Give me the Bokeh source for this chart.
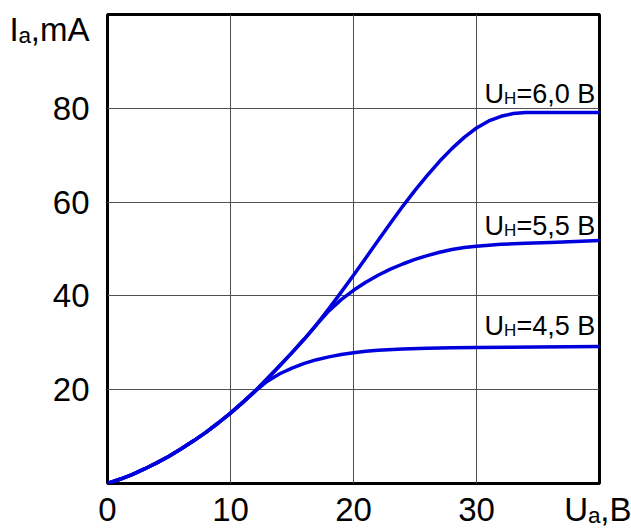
from bokeh.plotting import figure
from bokeh.models import Label, FixedTicker, Range1d
from bokeh.embed import file_html
from bokeh.resources import INLINE

# ---- data ----
x_ticks = [0, 10, 20, 30]
x_tick_labels = ["0", "10", "20", "30"]
y_ticks = [20, 40, 60, 80]
y_tick_labels = ["20", "40", "60", "80"]
x_title = "Uₐ,В"
y_title = "Iₐ,mA"

# common part of all three characteristics
ua_common = [0, 1, 2, 3, 4, 5, 6, 7, 8, 9, 10, 11, 12]
ia_common = [0, 0.9, 1.9, 3.1, 4.4, 5.8, 7.4, 9.1, 10.9, 12.9, 15.0, 17.3, 19.7]

# common part of the 5,5 V and 6,0 V curves
ua_mid = [13, 14, 15, 16, 17]
ia_mid = [22.4, 25.1, 27.9, 30.8, 33.9]

ua_45 = [13, 14, 15, 16, 17, 18, 19, 20, 21, 22, 24, 26, 28, 30, 35, 40]
ia_45 = [21.8, 23.4, 24.6, 25.6, 26.4, 27.0, 27.5, 27.9, 28.2, 28.4, 28.7, 28.85, 28.95, 29.0, 29.1, 29.2]

ua_55 = [18, 19, 20, 21, 22, 23, 24, 25, 26, 27, 28, 29, 30, 32, 34, 36, 38, 40]
ia_55 = [36.8, 39.2, 41.2, 42.9, 44.4, 45.7, 46.8, 47.8, 48.6, 49.3, 49.9, 50.3, 50.6, 51.0, 51.2, 51.4, 51.6, 51.8]

ua_60 = [18, 19, 20, 21, 22, 23, 24, 25, 26, 27, 28, 29, 30, 31, 32, 33, 34, 36, 38, 40]
ia_60 = [37.3, 40.8, 44.4, 48.1, 51.8, 55.5, 59.1, 62.5, 65.7, 68.7, 71.4, 73.8, 75.8, 77.3, 78.3, 78.9, 79.1, 79.1, 79.1, 79.1]

curve_names = ["6,0", "5,5", "4,5"]

# ---- figure ----
FL, FT, FW, FH = 107, 14, 492, 469  # frame position in page px
FR, FB = FL + FW, FT + FH
X0, X1, Y0, Y1 = 0, 40, 0, 100
p = figure(frame_width=FW, frame_height=FH,
           x_range=Range1d(X0, X1), y_range=Range1d(Y0, Y1),
           output_backend="svg", toolbar_location=None,
           min_border_left=FL, min_border_top=FT,
           min_border_right=631 - FR, min_border_bottom=529 - FB)
p.background_fill_color = "white"
p.border_fill_color = "white"
p.outline_line_color = "black"
p.outline_line_width = 3
p.outline_line_alpha = 1.0

FONT = "Liberation Sans"
sx = FW / (X1 - X0)
sy = FH / (Y1 - Y0)

# axis titles sit in the tick-label rows of the axes (as in the reference)
x_title_pos = X1                      # centred under the right frame edge
y_title_pos = (FB - 28.5) / sy        # level with the top of the frame

x_all = x_ticks + [x_title_pos]
x_all_labels = x_tick_labels + [x_title]
y_all = y_ticks + [y_title_pos]
y_all_labels = y_tick_labels + [y_title]

for ax, ticks, labs, standoff in ((p.xaxis[0], x_all, x_all_labels, 7),
                                  (p.yaxis[0], y_all, y_all_labels, 18)):
    ax.ticker = FixedTicker(ticks=ticks)
    ax.major_label_overrides = {t: l for t, l in zip(ticks, labs)}
    ax.axis_line_color = None
    ax.major_tick_line_color = None
    ax.minor_tick_line_color = None
    ax.major_tick_out = 0
    ax.major_tick_in = 0
    ax.major_label_text_font = FONT
    ax.major_label_text_font_size = "33px"
    ax.major_label_text_color = "black"
    ax.major_label_standoff = standoff

p.xgrid.ticker = FixedTicker(ticks=[10, 20, 30])
p.ygrid.ticker = FixedTicker(ticks=[20, 40, 60, 80])
for g in (p.xgrid[0], p.ygrid[0]):
    g.grid_line_color = "#505050"
    g.grid_line_width = 1

BLUE = "#0000dc"
curves = [
    (ua_common + ua_mid + ua_60, ia_common + ia_mid + ia_60),
    (ua_common + ua_mid + ua_55, ia_common + ia_mid + ia_55),
    (ua_common + ua_45, ia_common + ia_45),
]
for xs, ys in curves:
    p.line(xs, ys, line_color=BLUE, line_width=3.5, line_join="round", line_cap="round")


# ---- curve labels (inside the frame, data units) ----
def put_in(text, px, py, size):
    p.add_layout(Label(x=(px - FL) / sx, y=(FB - py) / sy, text=text,
                       text_font=FONT, text_font_size=f"{size}px",
                       text_color="black", text_baseline="alphabetic",
                       text_align="left"))


for name, base in zip(curve_names, [93, 225, 325]):
    put_in("U", 484, base, 27)
    put_in("Н", 503.5, base + 5, 17)
    put_in("=" + name + " В", 516, base, 27)

open("out.html", "w").write(file_html(p, INLINE))
